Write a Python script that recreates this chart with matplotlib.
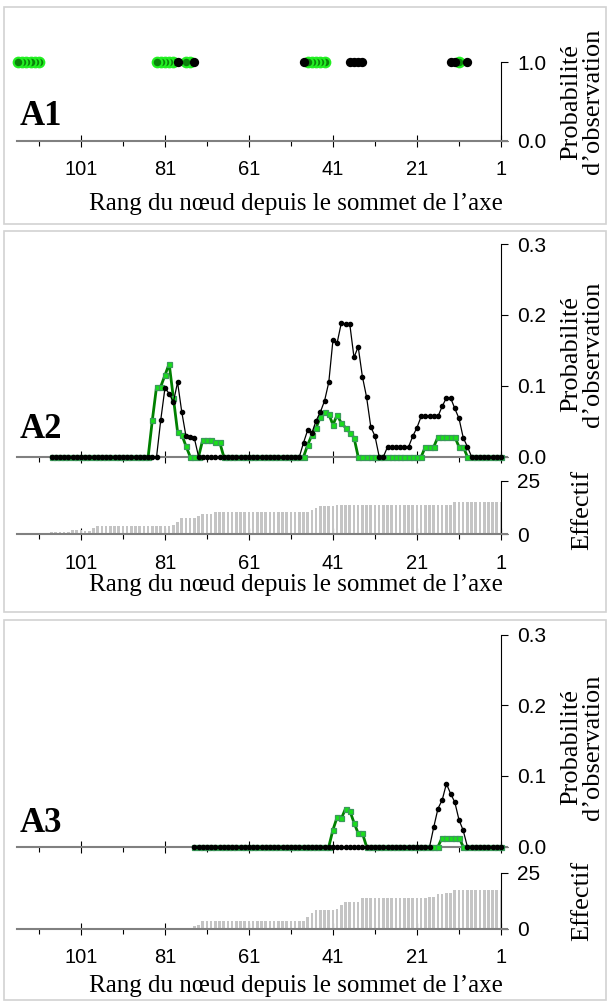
"""
three stacked panels (A1, A2, A3): observation probability along the axis
by node rank, with the sample size (Effectif) as bars under A2 and A3.
"""
import matplotlib
matplotlib.use("Agg")
import matplotlib.pyplot as plt
from matplotlib.patches import Rectangle

W, H = 608, 1002
SERIF = "Liberation Serif"
SANS = "Liberation Sans"
AXIS_GRAY = "#808080"
BAR_GRAY = "#c4c4c4"
DARK_GREEN = "#008000"

MAJOR = [101, 81, 61, 41, 21, 1]
MINOR = [111, 91, 71, 51, 31, 11]

# ---------- A1: ranks where each type was seen (probability 1.0) ----------
A1_GREEN = [11, 43, 44, 45, 46, 47, 75, 76, 79, 80, 81, 82, 83,
            111, 112, 113, 114, 115, 116]
A1_BLACK = [9, 12, 13, 34, 35, 36, 37, 48, 74, 78]

# ---------- A2: ranks 108 -> 1 ----------
A2_RANK = list(range(108, 0, -1))
A2_BLACK = ([0.0] * 26
            + [0.052, 0.097, 0.089, 0.077, 0.105, 0.063, 0.029, 0.028, 0.026]
            + [0.0] * 25
            + [0.020, 0.038, 0.034, 0.051, 0.063, 0.079, 0.105, 0.165, 0.161,
               0.189, 0.187, 0.187, 0.140, 0.155, 0.113, 0.084, 0.042, 0.029]
            + [0.0, 0.0]
            + [0.014] * 6
            + [0.029, 0.041]
            + [0.057] * 5
            + [0.071, 0.083, 0.083, 0.068, 0.054, 0.027, 0.014]
            + [0.0] * 8)
A2_GREEN = ([0.0] * 24
            + [0.052, 0.099, 0.099, 0.115, 0.131, 0.083, 0.035, 0.031, 0.015]
            + [0.0, 0.0, 0.0]
            + [0.024, 0.024, 0.024, 0.021, 0.021]
            + [0.0] * 20
            + [0.017, 0.031, 0.041, 0.056, 0.063, 0.060, 0.045, 0.059, 0.047,
               0.041, 0.034, 0.027]
            + [0.0] * 16
            + [0.014] * 3
            + [0.028] * 5
            + [0.014] * 2
            + [0.0] * 9)
A2_N = ([0.8] * 5 + [1.9] * 3 + [1.6] * 2 + [2.7] + [3.7] * 18 + [4.3] + [5.6]
        + [7.5] * 4 + [8.2] + [9.5] * 3 + [10.2] * 23 + [11.2] + [12.0]
        + [13.0] * 4 + [13.8] * 28 + [14.9] * 12)

# ---------- A3: ranks 74 -> 1 ----------
A3_RANK = list(range(74, 0, -1))
A3_BLACK = ([0.0] * 57
            + [0.028, 0.054, 0.066, 0.089, 0.075, 0.063, 0.038, 0.023]
            + [0.0] * 9)
A3_GREEN = ([0.0] * 33
            + [0.024, 0.042, 0.040, 0.054, 0.051, 0.034, 0.019, 0.019]
            + [0.0] * 18
            + [0.013] * 5
            + [0.0] * 10)
A3_N = ([1.0, 1.8] + [3.4] * 25 + [5.2, 7.0] + [8.2] * 5 + [8.8, 10.6]
        + [11.8] * 4 + [13.7] * 16 + [14.1] * 2 + [15.3] * 2 + [15.9] * 2
        + [17.1] * 12)


def px_axes(fig, top, bottom, left=16.7, right=507.3):
    return fig.add_axes([left / W, 1 - bottom / H, (right - left) / W, (bottom - top) / H])


def style(ax, ylim, yticks, ylabels, xlabels=True):
    ax.set_xlim(116.3, -0.5)
    ax.set_ylim(*ylim)
    ax.patch.set_visible(False)
    for s in ("top", "left"):
        ax.spines[s].set_visible(False)
    ax.spines["right"].set_position(("data", 1))
    ax.spines["right"].set_linewidth(0.8)
    ax.spines["bottom"].set_color(AXIS_GRAY)
    ax.spines["bottom"].set_linewidth(1.5)
    ax.yaxis.tick_right()
    ax.set_yticks(yticks)
    ax.set_yticklabels(ylabels, fontfamily=SANS, fontsize=15)
    ax.tick_params(axis="y", direction="out", length=5, width=0.8, pad=6.5)
    ax.set_xticks(MAJOR)
    ax.set_xticks(MINOR, minor=True)
    ax.set_xticklabels([str(t) for t in MAJOR], fontfamily=SANS, fontsize=14.5)
    ax.tick_params(axis="x", which="major", direction="inout", length=8.5,
                   width=0.8, pad=10, labelbottom=xlabels)
    ax.tick_params(axis="x", which="minor", direction="out", length=3.6, width=0.8)


def curves(ax, ranks, green, black):
    ax.plot(ranks, green, color=DARK_GREEN, lw=2.0, marker="s", ms=3.6,
            mfc="#19e019", mec="#3a9a5a", mew=0.9, zorder=3, clip_on=False)
    ax.plot(ranks, black, color="black", lw=0.9, marker="o", ms=3.0,
            zorder=4, clip_on=False)


def bars(ax, ranks, n):
    ax.bar(ranks, n, width=0.62, color=BAR_GRAY, linewidth=0, zorder=2)


def frame(fig, top, bottom):
    fig.add_artist(Rectangle((4 / W, 1 - bottom / H), 602 / W, (bottom - top) / H,
                             transform=fig.transFigure, fill=False,
                             ec="#d2d2d2", lw=1.2))


def text_px(fig, x, y, s, **kw):
    fig.text(x / W, 1 - y / H, s, **kw)


fig = plt.figure(figsize=(W / 100, H / 100), dpi=100)

# ---- A1 ----
frame(fig, 7, 224)
ax = px_axes(fig, 62.3, 140.7)
style(ax, (0, 1), [0, 1], ["0.0", "1.0"])
ax.scatter(A1_GREEN, [1.0] * len(A1_GREEN), s=48, facecolor="#0a820a",
           edgecolor="#22f022", linewidth=1.5, zorder=3, clip_on=False)
ax.scatter(A1_BLACK, [1.0] * len(A1_BLACK), s=45, color="black",
           linewidth=0, zorder=4, clip_on=False)

# ---- A2 ----
frame(fig, 230.7, 612)
ax = px_axes(fig, 244, 456.7)
style(ax, (0, 0.3), [0, 0.1, 0.2, 0.3], ["0.0", "0.1", "0.2", "0.3"], xlabels=False)
curves(ax, A2_RANK, A2_GREEN, A2_BLACK)
ax = px_axes(fig, 480.6, 534)
style(ax, (0, 25), [0, 25], ["0", "25"])
bars(ax, A2_RANK, A2_N)

# ---- A3 ----
frame(fig, 620, 1000)
ax = px_axes(fig, 634.5, 846.7)
style(ax, (0, 0.3), [0, 0.1, 0.2, 0.3], ["0.0", "0.1", "0.2", "0.3"], xlabels=False)
curves(ax, A3_RANK, A3_GREEN, A3_BLACK)
ax = px_axes(fig, 872.7, 928.7)
style(ax, (0, 25), [0, 25], ["0", "25"])
bars(ax, A3_RANK, A3_N)

# ---- labels ----
xlab = "Rang du nœud depuis le sommet de l’axe"
ylab = "Probabilité\nd’observation"
for y in (210, 591, 992):
    text_px(fig, 296, y, xlab, ha="center", va="baseline",
            fontfamily=SERIF, fontsize=18)
for y in (101.5, 354, 747):
    text_px(fig, 582, y, ylab, rotation=90, linespacing=1.0, ha="center",
            va="center", multialignment="center", fontfamily=SERIF, fontsize=19)
for y in (510, 901):
    text_px(fig, 582, y, "Effectif", rotation=90, ha="center", va="center",
            fontfamily=SERIF, fontsize=19)
for name, y in (("A1", 125), ("A2", 438), ("A3", 832)):
    text_px(fig, 20, y, name, ha="left", va="baseline", fontfamily=SERIF,
            fontsize=25, fontweight="bold")

fig.savefig("out.png", dpi=100)
